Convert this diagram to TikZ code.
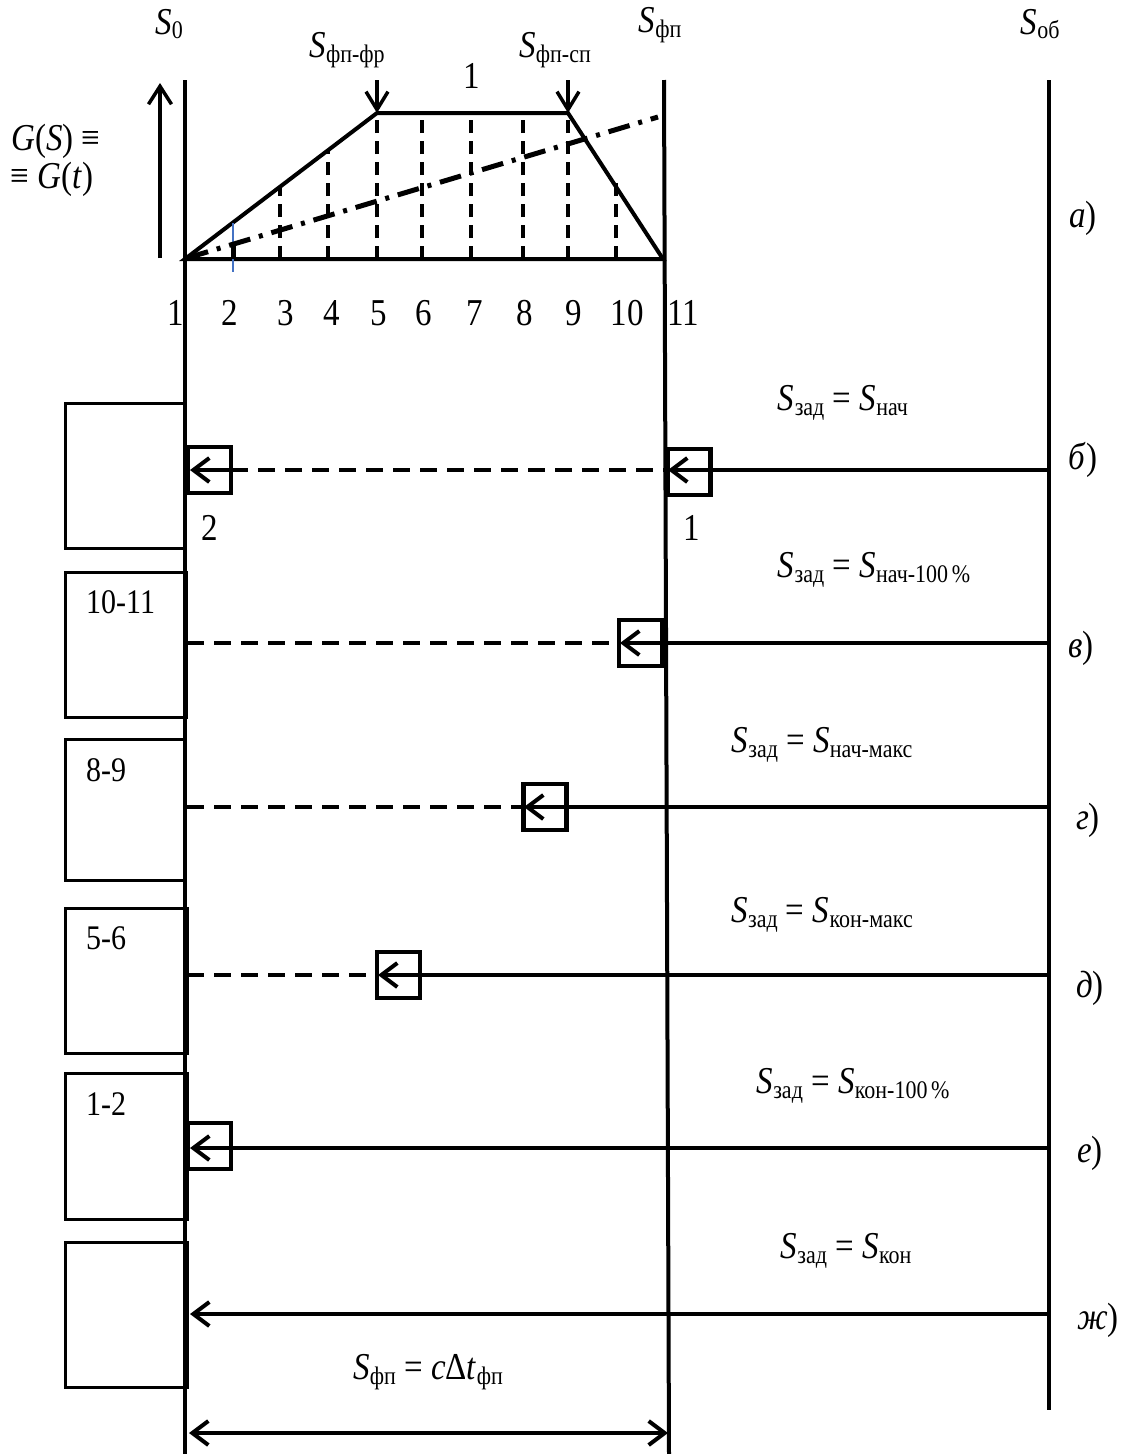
\documentclass[tikz,border=0pt]{standalone}
\usepackage{fontspec}
\setmainfont{Liberation Serif}
\usetikzlibrary{arrows.meta}
\definecolor{thinblue}{RGB}{68,114,196}
\newcommand\Sx[1]{\textit{S}\kern0.3pt\raisebox{-4pt}{\fontsize{22}{22}\selectfont #1}}
\newcommand\subx[1]{\raisebox{-4pt}{\fontsize{22}{22}\selectfont #1}}
\newcommand\T[1]{\scalebox{1}[1.15]{#1}}
\begin{document}
\begin{tikzpicture}[x=1pt,y=-1pt,
  mainline/.style={line width=4pt},
  hdash/.style={line width=4pt, dash pattern=on 17pt off 10pt},
  vdash/.style={line width=3.5pt, dash pattern=on 13pt off 8pt},
  dashdot/.style={line width=5pt, dash pattern=on 22pt off 9pt on 4pt off 9pt},
  sidebox/.style={draw, line width=3pt},
  sqbox/.style={draw, line width=4.5pt, minimum width=43pt, minimum height=46pt, inner sep=0pt},
  barb/.style={-{Straight Barb[length=16pt,width=24pt]}},
  dbarb/.style={{Straight Barb[length=16pt,width=24pt]}-{Straight Barb[length=16pt,width=24pt]}},
  lbl/.style={inner sep=0pt, font=\fontsize{33}{38}\selectfont},
  boxlbl/.style={inner sep=0pt, anchor=west, font=\fontsize{30}{35}\selectfont}]
\useasboundingbox (0,0) rectangle (1121,1454);

% main vertical lines
\coordinate (s0t) at (185,80);
\coordinate (s0b) at (185,1454);
\coordinate (sft) at (664,80);
\coordinate (sfb) at (669,1454);
\coordinate (sot) at (1049,80);
\coordinate (sob) at (1049,1410);
\draw[mainline] (s0t) -- (s0b);
\draw[mainline] (sft) -- (sfb);
\draw[mainline] (sot) -- (sob);

% top labels
\node[lbl] (lS0) at (169,24) {\T{\Sx{0}}};
\node[lbl] (lSf) at (660,25) {\T{\Sx{фп}}};
\node[lbl] (lSo) at (1040,24) {\T{\Sx{об}}};
\node[lbl] (lSfr) at (347,50) {\T{\Sx{фп-фр}}};
\node[lbl] (lSsp) at (555,50) {\T{\Sx{фп-сп}}};
\node[lbl] (lone) at (472,76) {\T{1}};
\node[lbl] (lG1) at (56,141) {\T{\textit{G}(\textit{S}) ≡}};
\node[lbl] (lG2) at (52,179) {\T{≡ \textit{G}(\textit{t})}};
\node[lbl] (la) at (1083,218) {\T{\textit{а})}};

% up arrow
\coordinate (upb) at (160,258);
\coordinate (upt) at (160,83);
\draw[line width=3.5pt, -{Straight Barb[length=18pt,width=23pt]}] (upb) -- (upt);

% trapezoid
\coordinate (t1) at (185,259);
\coordinate (t5) at (377,113);
\coordinate (t9) at (568,113);
\coordinate (t11) at (663,259);
\draw[line width=4pt, line join=miter] (t1) -- (t5) -- (t9) -- (t11) -- cycle;

% down arrows
\coordinate (d5) at (377,80);
\coordinate (d9) at (568,80);
\draw[line width=3.5pt, -{Straight Barb[length=18pt,width=22pt]}] (d5) -- (t5);
\draw[line width=3.5pt, -{Straight Barb[length=18pt,width=22pt]}] (d9) -- (t9);

% dashed ordinates
\foreach \xx/\yy in {280/188, 328/151, 377/113, 422/113, 471/113, 523/113, 568/113, 616/182}
  \draw[vdash] (\xx,259) -- (\xx,\yy);
\draw[thinblue, line width=1.5pt] (233,223) -- (233,272);
\draw[line width=5pt] (233,245) -- (233,259);

% dash-dot line
\coordinate (dd1) at (187,258);
\coordinate (dd2) at (658,117);
\draw[dashdot] (dd1) -- (dd2);

% numbers
\foreach \xx/\nn in {176/1, 230/2, 286/3, 332/4, 379/5, 424/6, 475/7, 525/8, 574/9, 627/10, 683/11}
  \node[lbl] at (\xx,313) {\T{\nn}};

% --- б)
\draw[sidebox] (65,403) rectangle (185,548);
\node[sqbox] (qb0) at (209.5,470) {};
\node[sqbox] (qb1) at (689,472) {};
\coordinate (bo) at (1049,470);
\coordinate (btip1) at (668,470);
\coordinate (btip0) at (190,470);
\coordinate (bd1) at (664,470);
\coordinate (bd0) at (231,470);
\draw[line width=4pt, barb] (bo) -- (btip1);
\draw[hdash] (bd0) -- (bd1);
\draw[line width=4pt, barb] (bd0) -- (btip0);
\node[lbl] (l2) at (210,528) {\T{2}};
\node[lbl] (l1) at (692,528) {\T{1}};
\node[lbl] (eqb) at (843,403) {\T{\Sx{зад} = \Sx{нач}}};
\node[lbl] (lb) at (1083,460) {\T{\textit{б})}};

% --- в)
\draw[sidebox] (65,572) rectangle (186,717);
\node[boxlbl] (n1011) at (86,602) {\T{10-11}};
\node[sqbox] (qv) at (640.5,643) {};
\coordinate (vo) at (1049,643);
\coordinate (vtip) at (620,643);
\coordinate (v0) at (187,643);
\draw[line width=4pt, barb] (vo) -- (vtip);
\draw[hdash] (v0) -- (qv.west);
\node[lbl] (eqv) at (874,570) {\T{\Sx{зад} = \Sx{нач-100\,\%}}};
\node[lbl] (lv) at (1081,648) {\T{\textit{в})}};

% --- г)
\draw[sidebox] (65,739) rectangle (185,880);
\node[boxlbl] (n89) at (86,770) {\T{8-9}};
\node[sqbox] (qg) at (545,807) {};
\coordinate (go) at (1049,807);
\coordinate (gtip) at (524,807);
\coordinate (g0) at (187,807);
\draw[line width=4pt, barb] (go) -- (gtip);
\draw[hdash] (g0) -- (qg.west);
\node[lbl] (eqg) at (822,745) {\T{\Sx{зад} = \Sx{нач-макс}}};
\node[lbl] (lg) at (1088,820) {\T{\textit{г})}};

% --- д)
\draw[sidebox] (65,908) rectangle (187,1053);
\node[boxlbl] (n56) at (86,938) {\T{5-6}};
\node[sqbox] (qd) at (398.5,975) {};
\coordinate (do) at (1049,975);
\coordinate (dtip) at (378,975);
\coordinate (d0) at (187,975);
\draw[line width=4pt, barb] (do) -- (dtip);
\draw[hdash] (d0) -- (qd.west);
\node[lbl] (eqd) at (822,915) {\T{\Sx{зад} = \Sx{кон-макс}}};
\node[lbl] (ld) at (1090,988) {\T{\textit{д})}};

% --- е)
\draw[sidebox] (65,1073) rectangle (187,1219);
\node[boxlbl] (n12) at (86,1104) {\T{1-2}};
\node[sqbox] (qe) at (209.5,1146) {};
\coordinate (eo) at (1049,1148);
\coordinate (etip) at (190,1148);
\draw[line width=4pt, barb] (eo) -- (etip);
\node[lbl] (eqe) at (853,1086) {\T{\Sx{зад} = \Sx{кон-100\,\%}}};
\node[lbl] (le) at (1090,1153) {\T{\textit{е})}};

% --- ж)
\draw[sidebox] (65,1242) rectangle (187,1387);
\coordinate (zo) at (1049,1314);
\coordinate (ztip) at (190,1314);
\draw[line width=4pt, barb] (zo) -- (ztip);
\node[lbl] (eqz) at (846,1251) {\T{\Sx{зад} = \Sx{кон}}};
\node[lbl] (lz) at (1098,1320) {\T{\textit{ж})}};

% bottom dimension
\node[lbl] (eqf) at (428,1372) {\T{\Sx{фп} = \textit{c}Δ\textit{t}\subx{фп}}};
\coordinate (dimL) at (189,1433);
\coordinate (dimR) at (668,1433);
\draw[line width=4pt, dbarb] (dimL) -- (dimR);
\end{tikzpicture}
\end{document}
